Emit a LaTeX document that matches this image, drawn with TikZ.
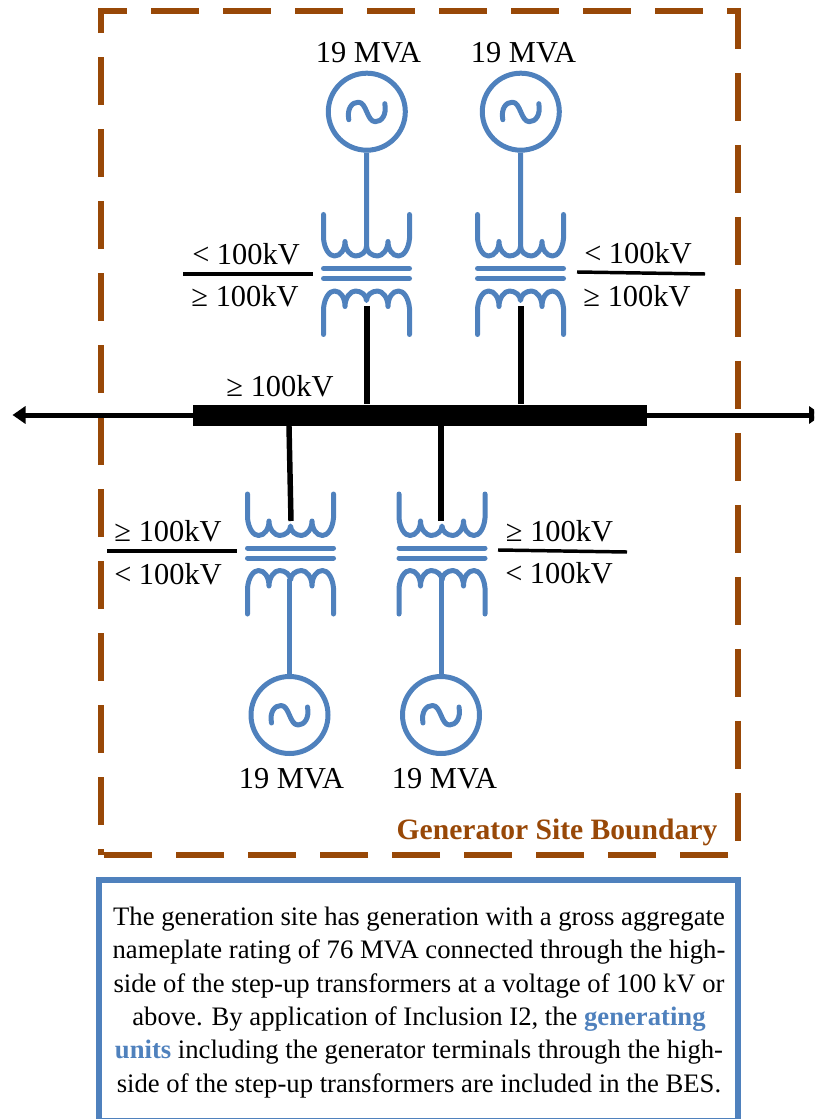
\documentclass[tikz,border=0pt]{standalone}
\usepackage{fontspec}
\setmainfont{Liberation Serif}
\usetikzlibrary{arrows.meta}
\definecolor{bluel}{HTML}{4F81BD}
\definecolor{brownl}{HTML}{984807}
\tikzset{
  coil/.style={draw=bluel,line width=3.75pt,line cap=round,line join=round},
  wire/.style={draw=bluel,line width=3.75pt},
  blk/.style={draw=black,line width=4.1pt},
  thin blk/.style={draw=black,line width=2.6pt},
  lbl/.style={inner sep=0pt,font=\fontsize{22.8}{27}\selectfont},
  gen/.style={circle,draw=bluel,line width=3.75pt,minimum size=57.75pt,inner sep=0pt},
  xf/.pic={
    \draw[coil] (-43,-59) -- (-43,-35) .. controls (-42,-24) and (-37,-17.5) .. (-32,-17.5) .. controls (-26,-17.5) and (-21.5,-24) .. (-21.5,-32) .. controls (-21.5,-24) and (-16,-17.5) .. (-11,-17.5) .. controls (-5,-17.5) and (0,-22) .. (0,-27) .. controls (0,-22) and (5,-17.5) .. (11,-17.5) .. controls (16,-17.5) and (21.5,-24) .. (21.5,-32) .. controls (21.5,-24) and (26,-17.5) .. (32,-17.5) .. controls (37,-17.5) and (42,-24) .. (43,-35) -- (43,-59);
    \draw[coil] (-43,-5) -- (43,-5);
    \draw[coil] (-43,5) -- (43,5);
    \draw[coil] (-43,61) -- (-43,35) .. controls (-42,24) and (-37,17.5) .. (-32,17.5) .. controls (-26,17.5) and (-21.5,24) .. (-21.5,33) .. controls (-21.5,24) and (-16,17.5) .. (-11,17.5) .. controls (-5,17.5) and (0,22) .. (0,27) .. controls (0,22) and (5,17.5) .. (11,17.5) .. controls (16,17.5) and (21.5,24) .. (21.5,33) .. controls (21.5,24) and (26,17.5) .. (32,17.5) .. controls (37,17.5) and (42,24) .. (43,35) -- (43,61);
  },
  wave/.pic={
    \draw[coil] (-18,8) .. controls (-20,-3) and (-15,-9.5) .. (-8.5,-9.5) .. controls (0,-9.5) and (0,10) .. (8.5,10) .. controls (15,10) and (20,3) .. (18,-8);
  }
}
\begin{document}
\begin{tikzpicture}[x=0.75pt,y=-0.75pt]
\useasboundingbox (0,0) rectangle (814,1119);
\clip (0,0) rectangle (814,1119);
% boundary
\draw[brownl,line width=4.5pt,dash pattern=on 36pt off 18pt,dash phase=31.3pt] (101,855.3) -- (101,11.3) -- (737.7,11.3) -- (737.7,855.3) -- cycle;
\node[lbl,text=brownl,font=\bfseries\fontsize{22.2}{26}\selectfont] (site) at (557,832.5) {Generator Site Boundary};
% caption
\draw[bluel,line width=4.5pt] (99,1121) -- (99,880.3) -- (737.7,880.3) -- (737.7,1121) -- cycle;
\node[inner sep=0pt,align=center,font=\fontsize{20}{25}\selectfont] (captext) at (419,1002.5) {\frenchspacing The generation site has generation with a gross aggregate\\nameplate rating of 76 MVA connected through the high-\\side of the step-up transformers at a voltage of 100 kV or\\above. By application of Inclusion I2, the \textcolor{bluel}{\bfseries generating}\\\textcolor{bluel}{\bfseries units} including the generator terminals through the high-\\side of the step-up transformers are included in the BES.};
% bus
\coordinate (west) at (12.5,415);
\coordinate (east) at (822,415);
\draw[black,line width=3.75pt,{Triangle[length=9.75pt,width=12.75pt]}-{Triangle[length=9.75pt,width=12.75pt]}] (west) -- (east);
\node[fill=black,minimum width=340.5pt,minimum height=16pt,inner sep=0pt] (bus) at (420,415.2) {};
\node[lbl] (busl) at (280,386) {≥ 100kV};
% transformers
\pic (t1) at (366.5,273.5) {xf};
\pic (t2) at (520.5,273.5) {xf};
\pic (t3) at (290.5,553) {xf};
\pic (t4) at (442,553) {xf};
\coordinate (t1a) at (366.5,249);
\coordinate (t1b) at (367,306);
\coordinate (t2a) at (520.5,249);
\coordinate (t2b) at (521,306);
\coordinate (t3a) at (291,521);
\coordinate (t3b) at (289.5,579);
\coordinate (t4a) at (441,521);
\coordinate (t4b) at (441,579);
% generators
\node[gen] (g1) at (366.8,111.7) {};
\node[gen] (g2) at (520.8,111.7) {};
\node[gen] (g3) at (289.5,715) {};
\node[gen] (g4) at (441,715) {};
\pic at (g1) {wave};
\pic at (g2) {wave};
\pic at (g3) {wave};
\pic at (g4) {wave};
\draw[wire] (g1) -- (t1a);
\draw[wire] (g2) -- (t2a);
\draw[wire] (g3) -- (t3b);
\draw[wire] (g4) -- (t4b);
% links to bus
\draw[blk] (t1b) -- (t1b |- bus.north);
\draw[blk] (t2b) -- (t2b |- bus.north);
\draw[blk] (t3a) -- (289,426);
\draw[blk] (t4a) -- (t4a |- bus.south);
% ratings
\node[lbl] (r1) at (368.5,53) {19 MVA};
\node[lbl] (r2) at (523.5,53) {19 MVA};
\node[lbl] (r3) at (291.5,779) {19 MVA};
\node[lbl] (r4) at (444.5,779) {19 MVA};
% voltage fractions
\coordinate (f1a) at (183,274); \coordinate (f1b) at (313,274);
\coordinate (f2a) at (577,272); \coordinate (f2b) at (705,274);
\coordinate (f3a) at (107,551); \coordinate (f3b) at (237,551);
\coordinate (f4a) at (498,550); \coordinate (f4b) at (627,552);
\draw[thin blk] (f1a) -- (f1b);
\draw[thin blk] (f2a) -- (f2b);
\draw[thin blk] (f3a) -- (f3b);
\draw[thin blk] (f4a) -- (f4b);
\node[lbl] (l1a) at (246,254) {< 100kV};
\node[lbl] (l1b) at (245,296) {≥ 100kV};
\node[lbl] (l2a) at (638,253) {< 100kV};
\node[lbl] (l2b) at (637,296) {≥ 100kV};
\node[lbl] (l3a) at (168,531) {≥ 100kV};
\node[lbl] (l3b) at (168,574) {< 100kV};
\node[lbl] (l4a) at (559.5,531) {≥ 100kV};
\node[lbl] (l4b) at (559,573) {< 100kV};
\end{tikzpicture}
\end{document}
